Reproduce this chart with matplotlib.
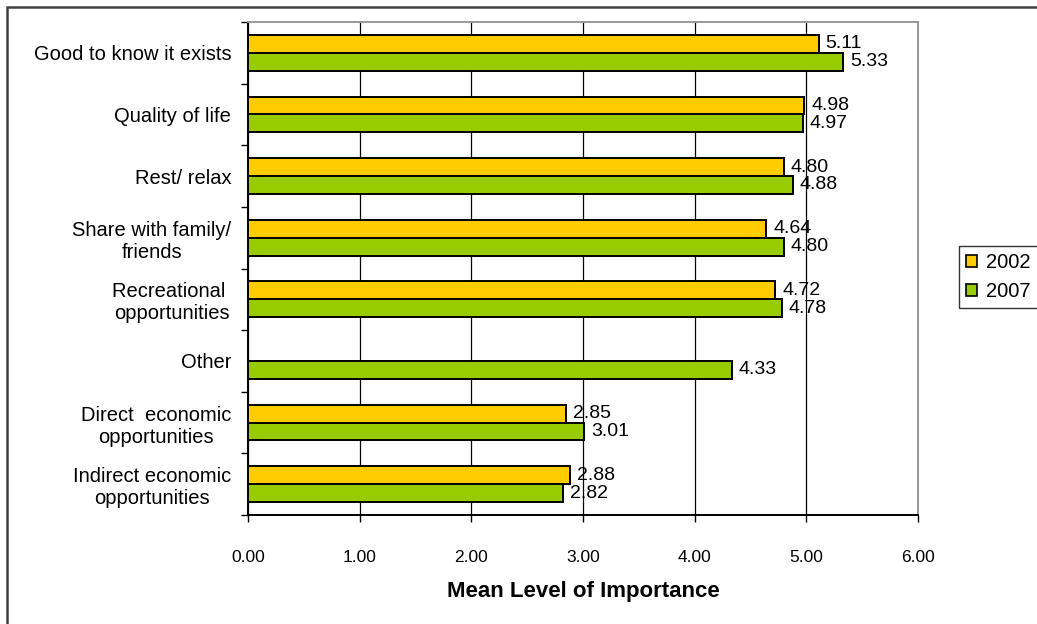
import matplotlib
matplotlib.use("Agg")
import matplotlib.pyplot as plt
import numpy as np
from matplotlib.patches import Rectangle

plt.rcParams['font.family'] = ['Liberation Sans', 'DejaVu Sans']

categories = ["Good to know it exists", "Quality of life", "Rest/ relax",
              "Share with family/\nfriends", "Recreational \nopportunities", "Other",
              "Direct  economic\nopportunities", "Indirect economic\nopportunities"]
vals_2002 = [5.11, 4.98, 4.80, 4.64, 4.72, None, 2.85, 2.88]
vals_2007 = [5.33, 4.97, 4.88, 4.80, 4.78, 4.33, 3.01, 2.82]
series_names = ["2002", "2007"]
xticks = [0, 1, 2, 3, 4, 5, 6]

c2002 = "#FFCC00"
c2007 = "#99CC00"

W, H = 1037, 624
fig = plt.figure(figsize=(W / 100, H / 100), dpi=100)
ax = fig.add_axes([248 / W, 1 - 515 / H, (918 - 248) / W, (515 - 22) / H])

n = len(categories)
y = np.arange(n)
h = 0.29
ax.set_axisbelow(True)
for i in range(n):
    if vals_2002[i] is not None:
        ax.barh(i - h / 2, vals_2002[i], height=h, color=c2002, edgecolor='black', linewidth=1.4, zorder=3)
        ax.annotate(f"{vals_2002[i]:.2f}", (vals_2002[i], i - h / 2), xytext=(5, 0),
                    textcoords='offset points', va='center', ha='left', fontsize=14, zorder=4)
    ax.barh(i + h / 2, vals_2007[i], height=h, color=c2007, edgecolor='black', linewidth=1.4, zorder=3)
    ax.annotate(f"{vals_2007[i]:.2f}", (vals_2007[i], i + h / 2), xytext=(5, 0),
                textcoords='offset points', va='center', ha='left', fontsize=14, zorder=4)

ax.set_ylim(n - 0.5, -0.5)
ax.set_xlim(0, 6)
ax.set_xticks(xticks)
ax.set_xticklabels([f"{t:.2f}" for t in xticks], fontsize=12.5)
ax.set_yticks(y)
ax.set_yticklabels(categories, fontsize=14.5, multialignment='center')
ax.tick_params(axis='y', length=0, pad=12)
ax.set_yticks(np.arange(-0.5, n + 0.5, 1), minor=True)
ax.tick_params(axis='y', which='minor', length=5, width=1, direction='out', color='black')
ax.tick_params(axis='x', length=5, width=1, direction='out', pad=20)
ax.grid(axis='x', color='black', linewidth=0.9, zorder=0)
for s in ['top', 'right']:
    ax.spines[s].set_color('#999999')
    ax.spines[s].set_linewidth(1.4)
for s in ['left', 'bottom']:
    ax.spines[s].set_color('black')
    ax.spines[s].set_linewidth(1.4)

ax.set_xlabel("Mean Level of Importance", fontsize=16, fontweight='bold')
ax.xaxis.label.set_va('center')
ax.xaxis.set_label_coords(0.5, -(592 - 515) / (515 - 22))

handles = [Rectangle((0, 0), 1, 1, facecolor=c2002, edgecolor='black', linewidth=1.2),
           Rectangle((0, 0), 1, 1, facecolor=c2007, edgecolor='black', linewidth=1.2)]
leg = fig.legend(handles, series_names, loc='upper left', bbox_to_anchor=(959 / W, 1 - 246 / H),
                 frameon=True, fancybox=False, edgecolor='black', fontsize=14.5,
                 handlelength=0.55, handleheight=0.55, handletextpad=0.45, borderpad=0.35,
                 labelspacing=0.5, borderaxespad=0)
leg.get_frame().set_linewidth(1)

fig.patches.append(Rectangle((6.5 / W, 1 - 700 / H), 1.2, (700 - 6.5) / H, transform=fig.transFigure,
                             fill=False, edgecolor='#404040', linewidth=1.8))

fig.savefig("out.png", dpi=100)
